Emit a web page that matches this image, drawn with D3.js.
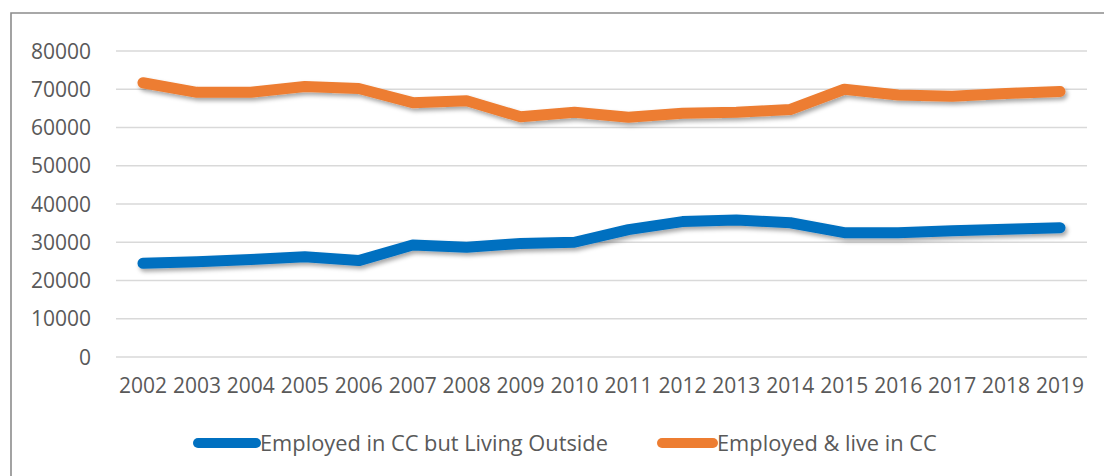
<!DOCTYPE html>
<html>
<head>
<meta charset="utf-8">
<script src="https://cdn.jsdelivr.net/npm/d3@7"></script>
<style>
  body { margin: 0; background: #fff; }
  svg { display: block; }
</style>
</head>
<body>
<div id="chart"></div>
<script>
// years on the x axis
const years = ["2002", "2003", "2004", "2005", "2006", "2007", "2008", "2009", "2010",
  "2011", "2012", "2013", "2014", "2015", "2016", "2017", "2018", "2019"];

// Employed in CC but Living Outside
const livingOutside = [24500, 24900, 25500, 26200, 25200, 29300, 28700, 29700, 30000,
  33300, 35400, 35800, 35100, 32500, 32500, 33000, 33400, 33800];

// Employed & live in CC
const liveInCC = [71700, 69200, 69200, 70700, 70200, 66500, 67000, 62800, 64000,
  62700, 63700, 64000, 64700, 70000, 68500, 68200, 68900, 69400];

const yTicks = [0, 10000, 20000, 30000, 40000, 50000, 60000, 70000, 80000];

const seriesNames = ["Employed in CC but Living Outside", "Employed & live in CC"];
const seriesColors = ["#0070C0", "#ED7D31"];

const width = 1104;
const height = 476;
const font = "'Open Sans', sans-serif";
const textColor = "#595959";

const svg = d3.select("#chart")
  .append("svg")
  .attr("width", width)
  .attr("height", height);

// drop shadow like the office chart lines
const defs = svg.append("defs");
defs.append("filter")
  .attr("id", "shadow")
  .attr("x", "-10%").attr("y", "-50%")
  .attr("width", "120%").attr("height", "200%")
  .append("feDropShadow")
  .attr("dx", 2)
  .attr("dy", 3)
  .attr("stdDeviation", 2.2)
  .attr("flood-color", "#000")
  .attr("flood-opacity", 0.35);

// outer frame (cropped on right and bottom)
svg.append("path")
  .attr("d", `M11,${height + 5} L11,13 L${width + 5},13`)
  .attr("fill", "none")
  .attr("stroke", "#8c8c8c")
  .attr("stroke-width", 1.6);

const x = d3.scaleBand()
  .domain(years)
  .range([116, 1087])
  .paddingInner(0)
  .paddingOuter(0);

const y = d3.scaleLinear()
  .domain([0, 80000])
  .range([357, 51]);

const cx = d => x(d) + x.bandwidth() / 2;

// gridlines
svg.append("g")
  .selectAll("line")
  .data(yTicks)
  .join("line")
  .attr("x1", 116)
  .attr("x2", 1087)
  .attr("y1", d => y(d))
  .attr("y2", d => y(d))
  .attr("stroke", "#d9d9d9")
  .attr("stroke-width", 1.5);

// y axis labels
svg.append("g")
  .selectAll("text")
  .data(yTicks)
  .join("text")
  .attr("x", 91)
  .attr("y", d => y(d))
  .attr("dy", "0.36em")
  .attr("text-anchor", "end")
  .style("font-family", font)
  .style("font-size", "21px")
  .attr("fill", textColor)
  .text(d => d);

// x axis labels
svg.append("g")
  .selectAll("text")
  .data(years)
  .join("text")
  .attr("x", d => cx(d))
  .attr("y", 393)
  .attr("text-anchor", "middle")
  .style("font-family", font)
  .style("font-size", "21px")
  .attr("fill", textColor)
  .text(d => d);

// lines
const line = d3.line()
  .x((d, i) => cx(years[i]))
  .y(d => y(d));

[livingOutside, liveInCC].forEach((values, k) => {
  svg.append("path")
    .datum(values)
    .attr("d", line)
    .attr("fill", "none")
    .attr("stroke", seriesColors[k])
    .attr("stroke-width", 11)
    .attr("stroke-linecap", "round")
    .attr("stroke-linejoin", "round")
    .attr("filter", "url(#shadow)");
});

// legend
const legendItems = [
  { name: seriesNames[0], color: seriesColors[0], x0: 198, x1: 256, tx: 260 },
  { name: seriesNames[1], color: seriesColors[1], x0: 662, x1: 713, tx: 717 }
];
const legendY = 443;

const lg = svg.append("g");
lg.selectAll("line")
  .data(legendItems)
  .join("line")
  .attr("x1", d => d.x0)
  .attr("x2", d => d.x1)
  .attr("y1", legendY)
  .attr("y2", legendY)
  .attr("stroke", d => d.color)
  .attr("stroke-width", 10)
  .attr("stroke-linecap", "round");

lg.selectAll("text")
  .data(legendItems)
  .join("text")
  .attr("x", d => d.tx)
  .attr("y", legendY)
  .attr("dy", "0.36em")
  .style("font-family", font)
  .style("font-size", "21.8px")
  .attr("fill", textColor)
  .text(d => d.name);
</script>
</body>
</html>
